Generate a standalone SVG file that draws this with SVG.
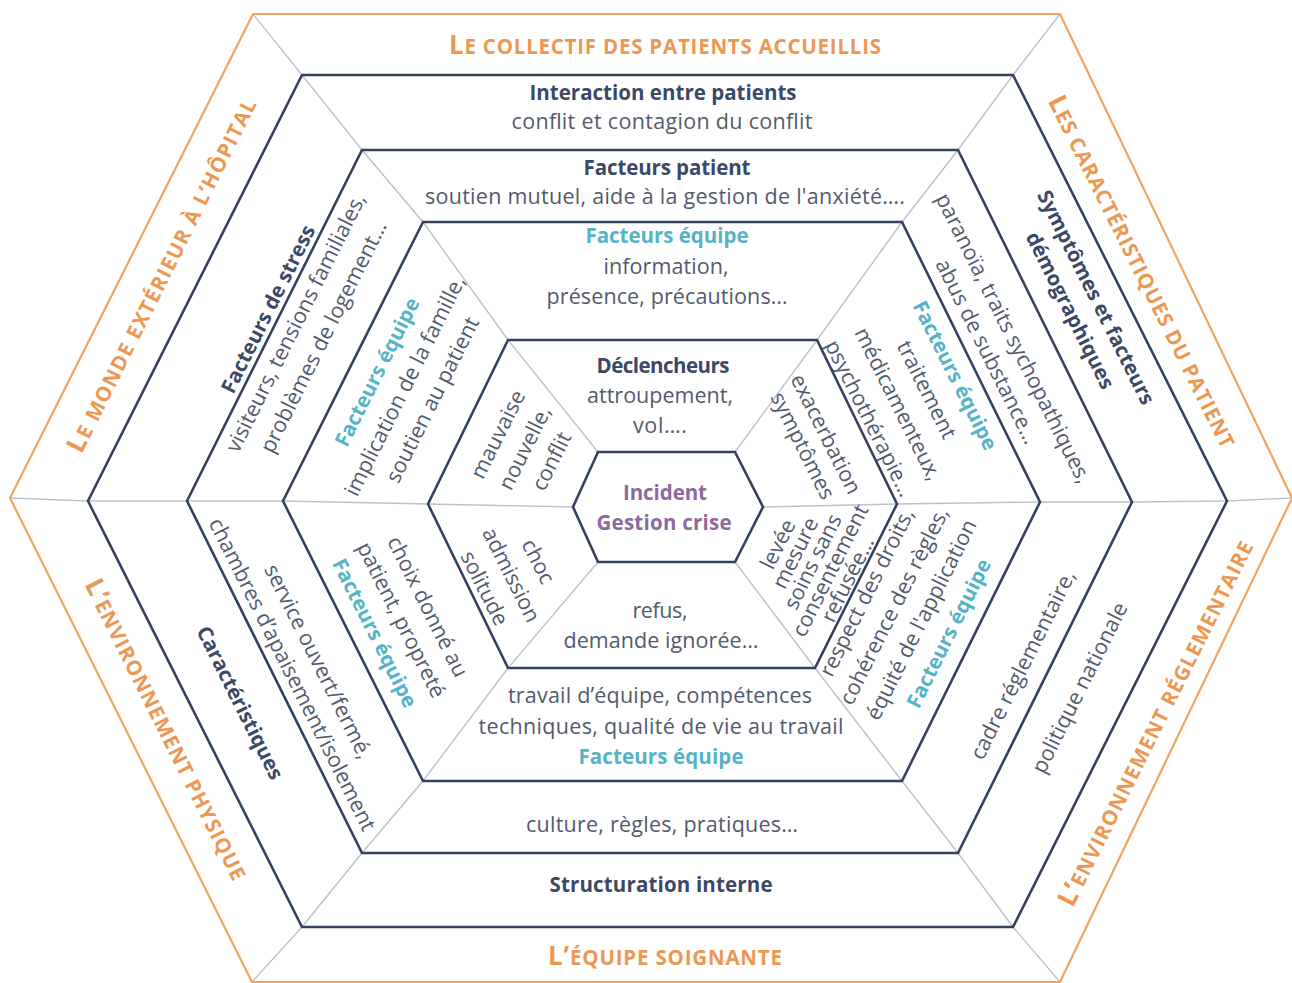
<svg xmlns="http://www.w3.org/2000/svg" width="1292" height="983" viewBox="0 0 1292 983">
  <style>
    .outer{fill:none;stroke:#f1a461;stroke-width:2.2;stroke-linejoin:miter}
    .ring{fill:none;stroke:#35425f;stroke-width:2.6;stroke-linejoin:miter}
    .spoke{fill:none;stroke:#bcc1c9;stroke-width:1.4}
    text{font-family:"Open Sans","Noto Sans","DejaVu Sans",sans-serif;text-anchor:middle}
    .h{font-size:20.5px;font-weight:700;fill:#3b4866}
    .t{font-size:21.5px;fill:#525a6c}
    .eq{font-size:20.5px;font-weight:700;fill:#55b3c8}
    .c{font-size:20.5px;font-weight:700;fill:#8d6a9e}
    .o{font-size:20.5px;font-weight:700;fill:#ec9852}
    .big{font-size:26px}
  </style>

  <rect width="1292" height="983" fill="#ffffff"/>

  <!-- radial dividers joining matching corners of the nested hexagons -->
  <g id="connectors">
    <polyline class="spoke" points="253,14 302,75 362,150 423,222 508,340 598,452"/>
    <polyline class="spoke" points="1060,14 1013,75 958,150 902,222 817,340 735,452"/>
    <polyline class="spoke" points="1292,498 1227,501 1132,502 1040,502 897,504 763,507"/>
    <polyline class="spoke" points="1060,982 1013,927 958,853 902,781 815,668 735,562"/>
    <polyline class="spoke" points="252,982 302,927 362,853 423,781 508,668 598,562"/>
    <polyline class="spoke" points="10,498 88,501 187,501 283,501 428,504 573,507"/>
  </g>

  <!-- ring 1: outer context -->
  <g id="ring-context">
    <polygon class="outer" points="253,14 1060,14 1292,498 1060,982 252,982 10,498"/>
    <text class="o" x="665" y="54" textLength="432"><tspan class="big">L</tspan>E COLLECTIF DES PATIENTS ACCUEILLIS</text>
    <text class="o" transform="translate(1141,272) rotate(63.43)" y="7" textLength="390"><tspan class="big">L</tspan>ES CARACTÉRISTIQUES DU PATIENT</text>
    <text class="o" transform="translate(1157,724) rotate(-63.43)" y="7" textLength="405"><tspan class="big">L’</tspan>ENVIRONNEMENT RÉGLEMENTAIRE</text>
    <text class="o" x="665" y="965" textLength="234"><tspan class="big">L’</tspan>ÉQUIPE SOIGNANTE</text>
    <text class="o" transform="translate(165,730) rotate(63.43)" y="7" textLength="333"><tspan class="big">L’</tspan>ENVIRONNEMENT PHYSIQUE</text>
    <text class="o" transform="translate(163,276) rotate(-63.43)" y="7" textLength="392"><tspan class="big">L</tspan>E MONDE EXTÉRIEUR À L’HÔPITAL</text>
  </g>

  <!-- ring 2 -->
  <g id="ring-2">
    <polygon class="ring" points="302,75 1013,75 1227,501 1013,927 302,927 88,501"/>
    <text class="h" x="663" y="100" textLength="267">Interaction entre patients</text>
    <text class="t" x="662" y="129" textLength="301">conflit et contagion du conflit</text>
    <g transform="translate(1083,304) rotate(63.43)">
      <text class="h" y="-7.5">Symptômes et facteurs</text>
      <text class="h" y="21.5">démographiques</text>
    </g>
    <text class="t" transform="translate(1080,688) rotate(-63.43)" y="7">politique nationale</text>
    <text class="h" x="661" y="892" textLength="223">Structuration interne</text>
    <text class="h" transform="translate(240,703) rotate(63.43)" y="7">Caractéristiques</text>
    <g transform="translate(296,323) rotate(-63.43)">
      <text class="h" y="-24">Facteurs de stress</text>
      <text class="t" y="7">visiteurs, tensions familiales,</text>
      <text class="t" y="38">problèmes de logement…</text>
    </g>
  </g>

  <!-- ring 3 -->
  <g id="ring-3">
    <polygon class="ring" points="362,150 958,150 1132,502 958,853 362,853 187,501"/>
    <text class="h" x="667" y="175" textLength="167">Facteurs patient</text>
    <text class="t" x="665" y="204" textLength="480">soutien mutuel, aide à la gestion de l'anxiété….</text>
    <g transform="translate(1000,345) rotate(63.43)">
      <text class="t" y="-7.75">paranoïa, traits sychopathiques,</text>
      <text class="t" y="21.75">abus de substance…</text>
    </g>
    <text class="t" transform="translate(1023,665) rotate(-63.43)" y="7">cadre réglementaire,</text>
    <text class="t" x="662" y="832" textLength="272">culture, règles, pratiques…</text>
    <g transform="translate(305,668) rotate(63.43)">
      <text class="t" y="-7.5">service ouvert/fermé,</text>
      <text class="t" y="21.5">chambres d’apaisement/isolement</text>
    </g>
  </g>

  <!-- ring 4 -->
  <g id="ring-4">
    <polygon class="ring" points="423,222 902,222 1040,502 902,781 423,781 283,501"/>
    <text class="eq" x="667" y="243" textLength="163">Facteurs équipe</text>
    <text class="t" x="666" y="274" textLength="125">information,</text>
    <text class="t" x="667" y="304" textLength="241">présence, précautions…</text>
    <g transform="translate(912,397) rotate(63.43)">
      <text class="eq" y="-41">Facteurs équipe</text>
      <text class="t" y="-9">traitement</text>
      <text class="t" y="23">médicamenteux,</text>
      <text class="t" y="55">psychothérapie…</text>
    </g>
    <g transform="translate(908,613) rotate(-63.43)">
      <text class="t" y="-38.75">respect des droits,</text>
      <text class="t" y="-8.25">cohérence des règles,</text>
      <text class="t" y="22.25">équité de l'application</text>
      <text class="eq" y="52.75">Facteurs équipe</text>
    </g>
    <text class="t" x="660" y="703" textLength="304">travail d’équipe, compétences</text>
    <text class="t" x="661" y="734" textLength="365">techniques, qualité de vie au travail</text>
    <text class="eq" x="661" y="764" textLength="165">Facteurs équipe</text>
    <g transform="translate(401,620) rotate(63.43)">
      <text class="t" y="-22.5">choix donné au</text>
      <text class="t" y="7">patient, propreté</text>
      <text class="eq" y="36.5">Facteurs équipe</text>
    </g>
    <g transform="translate(405,386) rotate(-63.43)">
      <text class="eq" y="-24">Facteurs équipe</text>
      <text class="t" y="7">implication de la famille,</text>
      <text class="t" y="38">soutien au patient</text>
    </g>
  </g>

  <!-- ring 5: triggers -->
  <g id="ring-5">
    <polygon class="ring" points="508,340 817,340 897,504 815,668 508,668 428,504"/>
    <text class="h" x="663" y="373" textLength="133">Déclencheurs</text>
    <text class="t" x="660" y="403" textLength="146">attroupement,</text>
    <text class="t" x="660" y="433" textLength="54">vol….</text>
    <g transform="translate(814,440) rotate(63.43)">
      <text class="t" y="-6">exacerbation</text>
      <text class="t" y="20">symptômes</text>
    </g>
    <g transform="translate(813,562) rotate(-63.43)">
      <text class="t" y="-32">levée</text>
      <text class="t" y="-12.5">mesure</text>
      <text class="t" y="7">soins sans</text>
      <text class="t" y="26.5">consentement</text>
      <text class="t" y="46">refusée…</text>
    </g>
    <text class="t" x="660" y="618" textLength="55">refus,</text>
    <text class="t" x="661" y="648" textLength="195">demande ignorée…</text>
    <g transform="translate(511,575) rotate(63.43)">
      <text class="t" y="-23">choc</text>
      <text class="t" y="7">admission</text>
      <text class="t" y="37">solitude</text>
    </g>
    <g transform="translate(525,448) rotate(-63.43)">
      <text class="t" y="-23">mauvaise</text>
      <text class="t" y="7">nouvelle,</text>
      <text class="t" y="37">conflit</text>
    </g>
  </g>

  <!-- core -->
  <g id="core">
    <polygon class="ring" points="598,452 735,452 763,507 735,562 598,562 573,507"/>
    <text class="c" x="665" y="500" textLength="84">Incident</text>
    <text class="c" x="664" y="530" textLength="135">Gestion crise</text>
  </g>
</svg>
